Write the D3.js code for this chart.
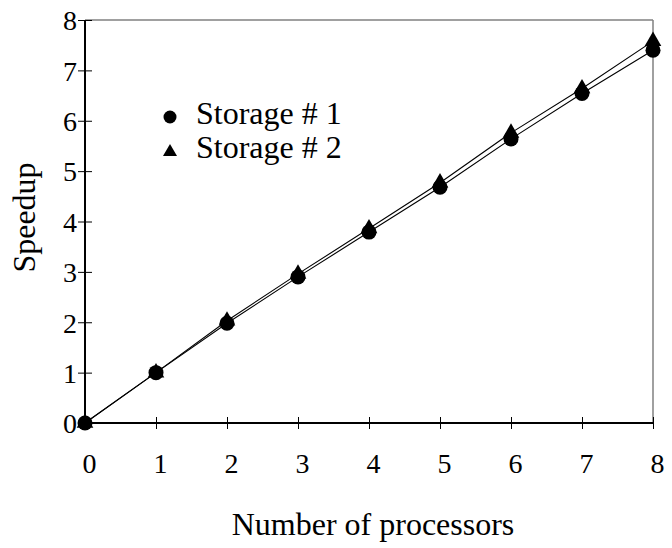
<!DOCTYPE html>
<html>
<head>
<meta charset="utf-8">
<script src="https://cdn.jsdelivr.net/npm/d3@7"></script>
<style>
  html, body { margin: 0; padding: 0; background: #fff; }
  svg { display: block; }
  text { font-family: "Liberation Serif", "Times New Roman", serif; fill: #000; }
</style>
</head>
<body>
<svg id="chart" width="672" height="548"></svg>
<script>
const processors = [0, 1, 2, 3, 4, 5, 6, 7, 8];
const storage1 = [0, 1, 1.98, 2.9, 3.79, 4.68, 5.64, 6.54, 7.4];
const storage2 = [0, 1.0, 2.03, 2.96, 3.86, 4.77, 5.76, 6.64, 7.58];
const xTicks = [0, 1, 2, 3, 4, 5, 6, 7, 8];
const yTicks = [0, 1, 2, 3, 4, 5, 6, 7, 8];
const seriesNames = ["Storage # 1", "Storage # 2"];
const xTitle = "Number of processors";
const yTitle = "Speedup";

const svg = d3.select("#chart");
const margin = { left: 85, top: 20, right: 19, bottom: 125 };
const W = 672, H = 548;
const x = d3.scaleLinear().domain([0, 8]).range([margin.left, W - margin.right]);
const y = d3.scaleLinear().domain([0, 8]).range([H - margin.bottom, margin.top]);

// frame (top/right gray)
svg.append("line").attr("x1", x(0)).attr("x2", x(8)).attr("y1", y(8)).attr("y2", y(8))
  .attr("stroke", "#808080").attr("stroke-width", 1.5);
svg.append("line").attr("x1", x(8)).attr("x2", x(8)).attr("y1", y(8)).attr("y2", y(0))
  .attr("stroke", "#808080").attr("stroke-width", 1.5);

// axes
const xAxis = svg.append("g").attr("transform", `translate(0,${y(0)})`)
  .call(d3.axisBottom(x).tickValues(xTicks).tickSize(6).tickFormat(d3.format("d")));
xAxis.select(".domain").remove();
xAxis.append("line").attr("x1", x(0)).attr("x2", x(8)).attr("stroke", "#000").attr("stroke-width", 2);
xAxis.selectAll(".tick line").attr("y1", -6).attr("y2", 6).attr("stroke", "#000").attr("stroke-width", 1);
xAxis.selectAll(".tick text").attr("y", 30).attr("dx", 4).attr("dy", "0.71em")
  .style("font-size", "28px").style("font-family", "Liberation Serif");

const yAxis = svg.append("g").attr("transform", `translate(${x(0)},0)`)
  .call(d3.axisLeft(y).tickValues(yTicks).tickSize(7).tickFormat(d3.format("d")));
yAxis.select(".domain").remove();
yAxis.append("line").attr("y1", y(0)).attr("y2", y(8)).attr("stroke", "#000").attr("stroke-width", 2);
yAxis.selectAll(".tick line").attr("x1", -7).attr("x2", 7).attr("stroke", "#000").attr("stroke-width", 1);
yAxis.selectAll(".tick text").attr("x", -8).attr("dy", "0.35em")
  .style("font-size", "28px").style("font-family", "Liberation Serif");

// lines
const line = d3.line().x((d, i) => x(processors[i])).y(d => y(d));
svg.append("path").datum(storage1).attr("d", line).attr("fill", "none").attr("stroke", "#000").attr("stroke-width", 1.1);
svg.append("path").datum(storage2).attr("d", line).attr("fill", "none").attr("stroke", "#000").attr("stroke-width", 1.1);

// markers: triangles below circles
const tri = d3.symbol().type(d3.symbolTriangle).size(120);
svg.append("g").selectAll("path").data(storage2).join("path")
  .attr("d", tri).attr("transform", (d, i) => `translate(${x(processors[i])},${y(d)})`).attr("fill", "#000");
svg.append("g").selectAll("circle").data(storage1).join("circle")
  .attr("cx", (d, i) => x(processors[i])).attr("cy", d => y(d)).attr("r", 7.5).attr("fill", "#000");

// legend
const leg = svg.append("g");
leg.append("circle").attr("cx", 170).attr("cy", 117).attr("r", 6.5).attr("fill", "#000");
leg.append("path").attr("d", d3.symbol().type(d3.symbolTriangle).size(85)()).attr("transform", "translate(170,152)").attr("fill", "#000");
leg.append("text").attr("x", 196).attr("y", 124).style("font-size", "32px").text(seriesNames[0]);
leg.append("text").attr("x", 196).attr("y", 158).style("font-size", "32px").text(seriesNames[1]);

// titles
svg.append("text").attr("x", (x(0) + x(8)) / 2 + 4).attr("y", 535).attr("text-anchor", "middle")
  .style("font-size", "32px").text(xTitle);
svg.append("text").attr("transform", `translate(35,${(y(0) + y(8)) / 2 - 4}) rotate(-90)`).attr("text-anchor", "middle")
  .style("font-size", "32px").text(yTitle);
</script>
</body>
</html>
